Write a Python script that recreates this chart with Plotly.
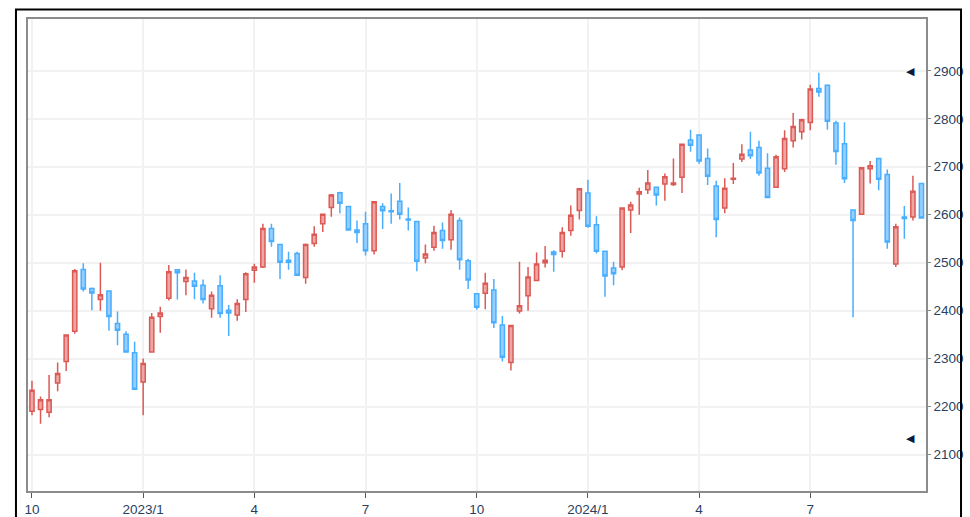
import pandas as pd
import plotly.graph_objects as go

# 周K线 OHLC（2022-10 ~ 2024-09）
open_ = [2190, 2194, 2188, 2249, 2294, 2357, 2486, 2446, 2423, 2441, 2373, 2351, 2312, 2251, 2314,
         2388, 2426, 2485, 2461, 2462, 2453, 2404, 2452, 2401, 2391, 2423, 2484, 2491, 2571, 2538,
         2505, 2519, 2469, 2540, 2581, 2615, 2646, 2617, 2568, 2581, 2525, 2617, 2608, 2628, 2591,
         2586, 2510, 2532, 2567, 2548, 2588, 2504, 2435, 2436, 2443, 2370, 2292, 2399, 2431, 2463,
         2500, 2522, 2524, 2567, 2609, 2645, 2579, 2524, 2489, 2491, 2610, 2643, 2652, 2657, 2664,
         2663, 2678, 2756, 2766, 2717, 2660, 2614, 2674, 2716, 2735, 2740, 2697, 2657, 2696, 2754,
         2773, 2792, 2863, 2870, 2791, 2748, 2610, 2601, 2696, 2717, 2684, 2497, 2595, 2595, 2665]
high = [2254, 2221, 2266, 2292, 2350, 2487, 2499, 2448, 2500, 2442, 2398, 2357, 2335, 2300, 2395,
        2408, 2495, 2486, 2486, 2479, 2465, 2440, 2474, 2412, 2424, 2480, 2498, 2581, 2581, 2539,
        2523, 2523, 2540, 2576, 2602, 2643, 2648, 2618, 2588, 2606, 2628, 2624, 2644, 2666, 2615,
        2587, 2538, 2577, 2584, 2610, 2594, 2508, 2437, 2479, 2466, 2389, 2370, 2502, 2491, 2521,
        2535, 2526, 2574, 2619, 2655, 2673, 2597, 2525, 2502, 2615, 2627, 2656, 2693, 2658, 2686,
        2717, 2748, 2777, 2767, 2738, 2671, 2676, 2708, 2747, 2773, 2754, 2728, 2725, 2776, 2812,
        2800, 2871, 2896, 2871, 2796, 2793, 2611, 2699, 2712, 2718, 2694, 2581, 2618, 2681, 2666]
low = [2182, 2164, 2178, 2232, 2274, 2352, 2440, 2401, 2400, 2358, 2328, 2313, 2235, 2182, 2313,
       2354, 2421, 2423, 2432, 2424, 2415, 2385, 2385, 2347, 2379, 2397, 2458, 2489, 2533, 2466,
       2485, 2473, 2456, 2533, 2564, 2596, 2603, 2567, 2541, 2515, 2517, 2570, 2581, 2590, 2567,
       2482, 2499, 2525, 2529, 2527, 2485, 2445, 2402, 2403, 2364, 2294, 2275, 2394, 2400, 2462,
       2490, 2481, 2511, 2556, 2590, 2573, 2519, 2429, 2453, 2484, 2562, 2600, 2643, 2619, 2629,
       2660, 2645, 2731, 2706, 2662, 2553, 2603, 2664, 2710, 2716, 2681, 2635, 2656, 2689, 2740,
       2757, 2776, 2846, 2777, 2704, 2666, 2386, 2600, 2665, 2651, 2529, 2491, 2550, 2588, 2592]
close = [2234, 2214, 2214, 2269, 2349, 2483, 2445, 2437, 2433, 2388, 2359, 2314, 2236, 2290, 2386,
         2395, 2481, 2479, 2469, 2451, 2423, 2432, 2394, 2395, 2415, 2477, 2491, 2571, 2544, 2501,
         2501, 2474, 2538, 2559, 2601, 2641, 2624, 2568, 2563, 2525, 2627, 2608, 2606, 2601, 2589,
         2503, 2518, 2563, 2546, 2601, 2506, 2464, 2407, 2457, 2375, 2303, 2369, 2410, 2470, 2497,
         2505, 2517, 2563, 2599, 2654, 2576, 2524, 2472, 2477, 2614, 2620, 2648, 2666, 2641, 2679,
         2666, 2747, 2745, 2712, 2680, 2590, 2655, 2676, 2726, 2723, 2687, 2636, 2721, 2759, 2784,
         2798, 2862, 2856, 2795, 2732, 2675, 2588, 2698, 2702, 2674, 2543, 2575, 2592, 2649, 2593]

dates = pd.date_range("2022-10-03", periods=len(close), freq="7D")

# 季度刻度
tick_idx = [0, 13, 26, 39, 52, 65, 78, 91]
tick_text = ["10", "2023/1", "4", "7", "10", "2024/1", "4", "7"]
y_ticks = [2100, 2200, 2300, 2400, 2500, 2600, 2700, 2800, 2900]
marker_levels = [2900, 2135]

RED = "#dc5a55"
BLUE = "#4aaeff"
TXT = "#2a3f5f"

fig = go.Figure(
    go.Candlestick(
        x=dates,
        open=open_,
        high=high,
        low=low,
        close=close,
        increasing=dict(line=dict(color=RED, width=1.5), fillcolor="#eda6a3"),
        decreasing=dict(line=dict(color=BLUE, width=1.5), fillcolor="#96cfff"),
        showlegend=False,
    )
)

for lv in marker_levels:
    fig.add_annotation(
        x=0.9905, xref="paper", y=lv, yref="y",
        text="◀", showarrow=False,
        font=dict(size=11, color="#0d1b3e"),
    )

# 外框
fig.add_shape(
    type="rect", xref="paper", yref="paper",
    x0=-0.0134, x1=1.039, y0=-0.2, y1=1.0201,
    line=dict(color="black", width=2),
)

fig.update_layout(
    width=970,
    height=517,
    margin=dict(l=28, r=44, t=19, b=26),
    paper_bgcolor="white",
    plot_bgcolor="white",
    font=dict(family="Liberation Sans, Arial", size=13.5, color=TXT),
    xaxis=dict(
        range=["2022-09-29 18:00", "2024-10-03 17:00"],
        rangeslider=dict(visible=False),
        tickvals=[dates[i] for i in tick_idx],
        ticktext=tick_text,
        ticks="outside", ticklen=5, tickcolor="#555",
        showgrid=True, gridcolor="#f2f2f2", gridwidth=1.5,
        showline=True, linecolor="#8c8c8c", linewidth=1.5, mirror=True,
        automargin=False,
    ),
    yaxis=dict(
        side="right",
        range=[2024, 3008],
        tickvals=y_ticks,
        ticks="outside", ticklen=3, tickcolor="#888",
        showgrid=True, gridcolor="#f2f2f2", gridwidth=1.5,
        showline=True, linecolor="#8c8c8c", linewidth=1.5, mirror=True,
        zeroline=False,
        automargin=False,
    ),
)

fig.write_html(
    "out.html",
    config={"displayModeBar": False},
    post_script="document.body.style.margin='0';",
)
